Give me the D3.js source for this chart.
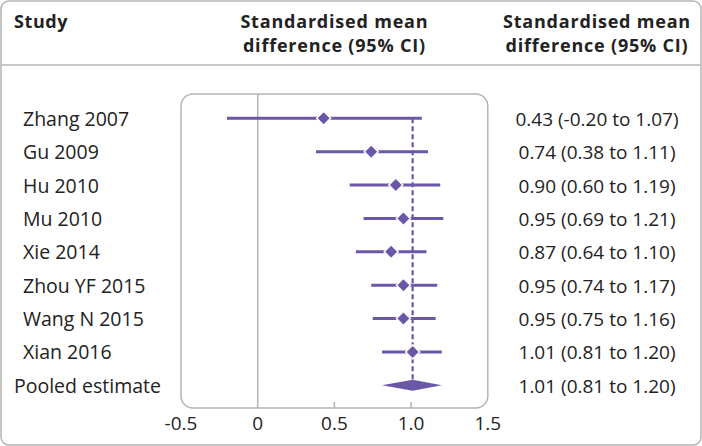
<!DOCTYPE html>
<html>
<head>
<meta charset="utf-8">
<script src="https://cdn.jsdelivr.net/npm/d3@7"></script>
<style>
  body { margin: 0; background: #fff; }
  text { font-family: "Open Sans", sans-serif; fill: #222; }
</style>
</head>
<body>
<div id="chart"></div>
<script>
const studies = ["Zhang 2007", "Gu 2009", "Hu 2010", "Mu 2010", "Xie 2014", "Zhou YF 2015", "Wang N 2015", "Xian 2016"];
const estimate = [0.43, 0.74, 0.90, 0.95, 0.87, 0.95, 0.95, 1.01];
const lower = [-0.20, 0.38, 0.60, 0.69, 0.64, 0.74, 0.75, 0.81];
const upper = [1.07, 1.11, 1.19, 1.21, 1.10, 1.17, 1.16, 1.20];
const pooledLabel = "Pooled estimate";
const pooled = [1.01, 0.81, 1.20]; // estimate, lower, upper
const xTicks = [-0.5, 0, 0.5, 1.0, 1.5];
const xTickLabels = ["-0.5", "0", "0.5", "1.0", "1.5"];

const W = 702, H = 446;
const purple = "#6b57a8";
const grey = "#b4b4b4";
// plain hyphen for negatives, as in the original
const f2 = v => d3.format(".2f")(v).replace("\u2212", "-");

const svg = d3.select("#chart")
  .append("svg")
  .attr("width", W)
  .attr("height", H);

const x = d3.scaleLinear()
  .domain([-0.5, 1.5])
  .range([181, 487.8]);

const y = d3.scalePoint()
  .domain(studies.concat([pooledLabel]))
  .range([118.3, 385.3]);

// outer frame and header rule
svg.append("rect")
  .attr("x", 1).attr("y", 1)
  .attr("width", W - 2).attr("height", H - 2)
  .attr("rx", 8)
  .attr("fill", "none")
  .attr("stroke", grey)
  .attr("stroke-width", 1.5);

svg.append("line")
  .attr("x1", 1).attr("x2", W - 1)
  .attr("y1", 65).attr("y2", 65)
  .attr("stroke", grey)
  .attr("stroke-width", 1.5);

// headers
svg.append("text")
  .attr("x", 14).attr("y", 28)
  .attr("font-size", 18).attr("font-weight", 700)
  .attr("letter-spacing", 0.6)
  .text("Study");

[x(0.5), 597].forEach(hx => {
  const t = svg.append("text")
    .attr("x", hx).attr("y", 27.5)
    .attr("text-anchor", "middle")
    .attr("font-size", 18).attr("font-weight", 700)
    .attr("letter-spacing", 0.8);
  t.append("tspan").attr("x", hx).text("Standardised mean");
  t.append("tspan").attr("x", hx).attr("dy", 24.5).text("difference (95% CI)");
});

// plot box
const boxTop = 94, boxBottom = 408;
svg.append("rect")
  .attr("x", x(-0.5)).attr("y", boxTop)
  .attr("width", x(1.5) - x(-0.5))
  .attr("height", boxBottom - boxTop)
  .attr("rx", 12)
  .attr("fill", "none")
  .attr("stroke", grey)
  .attr("stroke-width", 1.5);

// null line
svg.append("line")
  .attr("x1", x(0)).attr("x2", x(0))
  .attr("y1", boxTop).attr("y2", boxBottom)
  .attr("stroke", grey)
  .attr("stroke-width", 1.5);

// ticks and tick labels
svg.selectAll(".tick")
  .data(xTicks.filter(d => d > 0 && d < 1.5))
  .enter()
  .append("line")
  .attr("class", "tick")
  .attr("x1", d => x(d)).attr("x2", d => x(d))
  .attr("y1", boxBottom - 6).attr("y2", boxBottom)
  .attr("stroke", grey)
  .attr("stroke-width", 1.5);

svg.selectAll(".ticklabel")
  .data(xTicks)
  .enter()
  .append("text")
  .attr("class", "ticklabel")
  .attr("x", d => x(d))
  .attr("y", 430)
  .attr("text-anchor", "middle")
  .attr("font-size", 19)
  .text((d, i) => xTickLabels[i]);

// pooled estimate reference line
svg.append("line")
  .attr("x1", x(pooled[0])).attr("x2", x(pooled[0]))
  .attr("y1", y(studies[0])).attr("y2", y(pooledLabel))
  .attr("stroke", purple)
  .attr("stroke-width", 2.2)
  .attr("stroke-dasharray", "5,3");

const rows = studies.map((s, i) => ({ study: s, est: estimate[i], lo: lower[i], hi: upper[i] }));

// confidence intervals
svg.selectAll(".ci")
  .data(rows)
  .enter()
  .append("line")
  .attr("class", "ci")
  .attr("x1", d => x(d.lo)).attr("x2", d => x(d.hi))
  .attr("y1", d => y(d.study)).attr("y2", d => y(d.study))
  .attr("stroke", purple)
  .attr("stroke-width", 3);

// study point estimates
const dw = 7, dh = 7;
svg.selectAll(".est")
  .data(rows)
  .enter()
  .append("path")
  .attr("class", "est")
  .attr("d", d => {
    const cx = x(d.est), cy = y(d.study);
    return `M${cx - dw},${cy}L${cx},${cy - dh}L${cx + dw},${cy}L${cx},${cy + dh}Z`;
  })
  .attr("fill", purple)
  .attr("stroke", "#fff")
  .attr("stroke-width", 1.5);

// pooled diamond
const py = y(pooledLabel);
svg.append("path")
  .attr("d", `M${x(pooled[1])},${py}L${x(pooled[0])},${py - 5.5}L${x(pooled[2])},${py}L${x(pooled[0])},${py + 5.5}Z`)
  .attr("fill", purple);

// study labels
svg.selectAll(".label")
  .data(studies.concat([pooledLabel]))
  .enter()
  .append("text")
  .attr("class", "label")
  .attr("x", d => d === pooledLabel ? 14 : 23)
  .attr("y", d => y(d) + 7.5)
  .attr("font-size", 19.5)
  .text(d => d);

// value labels
const valueRows = rows.concat([{ study: pooledLabel, est: pooled[0], lo: pooled[1], hi: pooled[2] }]);
svg.selectAll(".value")
  .data(valueRows)
  .enter()
  .append("text")
  .attr("class", "value")
  .attr("x", 597)
  .attr("y", d => y(d.study) + 7.5)
  .attr("text-anchor", "middle")
  .attr("font-size", 19)
  .text(d => `${f2(d.est)} (${f2(d.lo)} to ${f2(d.hi)})`);
</script>
</body>
</html>
